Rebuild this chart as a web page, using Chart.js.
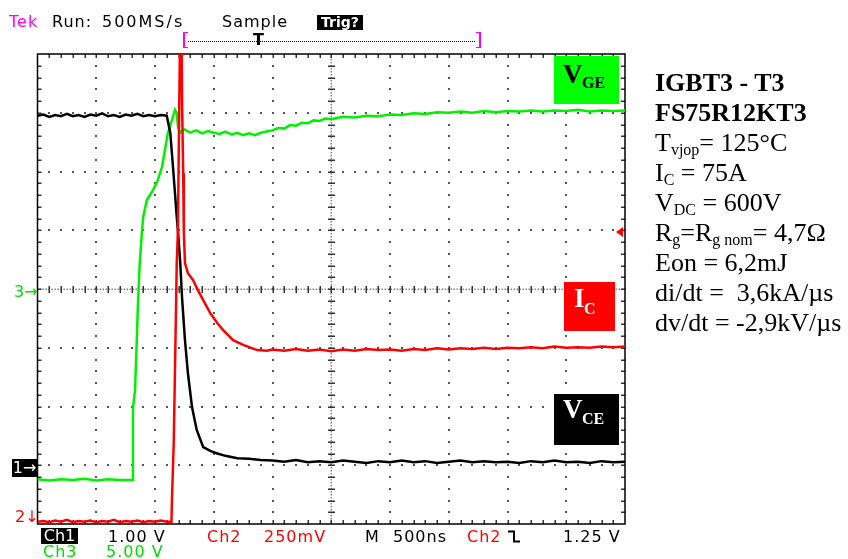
<!DOCTYPE html>
<html>
<head>
<meta charset="utf-8">
<script src="https://cdn.jsdelivr.net/npm/chart.js@4.4.0/dist/chart.umd.min.js"></script>
<style>
  body { margin: 0; background: #fff; }
  #wrap { position: relative; width: 848px; height: 559px; overflow: hidden; background: #fff; }
  #scope { position: absolute; left: 0; top: 0; }
  .t { position: absolute; font-family: "DejaVu Sans", sans-serif; font-size: 16px; line-height: 16px; letter-spacing: 1px; white-space: pre; color: #000; }
  .inv { position: absolute; background: #000; color: #fff; font-family: "DejaVu Sans", sans-serif; text-align: center; white-space: pre; }
  .box { position: absolute; }
  .lb { position: absolute; font-family: "Liberation Serif", serif; font-weight: bold; line-height: 1; white-space: pre; }
  #info { position: absolute; left: 655px; top: 68px; font-family: "Liberation Serif", serif; font-size: 26px; line-height: 30px; white-space: pre; color: #000; }
  #info sub { font-size: 16px; line-height: 0; vertical-align: -4px; }
</style>
</head>
<body>
<div id="wrap">
  <canvas id="scope" width="848" height="559"></canvas>

  <!-- header -->
  <div class="t" style="left:9px; top:13.5px; color:#ff00ff;">Tek</div>
  <div class="t" style="left:52px; top:13.5px;">Run:</div>
  <div class="t" style="left:102px; top:13.5px; letter-spacing:2px;">500MS/s</div>
  <div class="t" style="left:222px; top:13.5px;">Sample</div>
  <div class="inv" style="left:317px; top:15px; width:46px; height:15px; font-size:14px; line-height:15px; font-weight:bold;">Trig?</div>
  <div class="box" style="left:183px; top:32px; width:3px; height:14px; border-left:2px solid #ff00ff; border-top:1px solid #ff00ff; border-bottom:1px solid #ff00ff;"></div>
  <div class="box" style="left:476px; top:32px; width:3px; height:14px; border-right:2px solid #ff00ff; border-top:1px solid #ff00ff; border-bottom:1px solid #ff00ff;"></div>
  <div class="box" style="left:188px; top:41px; width:287px; border-top:1px dotted #000;"></div>
  <div class="t" style="left:253px; top:31.5px; letter-spacing:0; font-weight:bold;">T</div>

  <!-- channel ground markers -->
  <div class="t" style="left:14px; top:283.5px; color:#00dd00; letter-spacing:0;">3→</div>
  <div class="inv" style="left:12px; top:459px; width:25px; height:18px; font-size:16px; line-height:18px;">1→</div>
  <div class="t" style="left:15px; top:508.5px; color:#ff0000; letter-spacing:0;">2↓</div>

  <!-- trace labels -->
  <div class="box" style="left:554px; top:56px; width:65px; height:48px; background:#00ff00;"></div>
  <div class="lb" style="left:563px; top:61.4px; font-size:27px; color:#000;">V</div>
  <div class="lb" style="left:582px; top:74.6px; font-size:16px; color:#000;">GE</div>

  <div class="box" style="left:564px; top:282px; width:51px; height:49px; background:#ff0000;"></div>
  <div class="lb" style="left:574px; top:285.4px; font-size:27px; color:#fff;">I</div>
  <div class="lb" style="left:584px; top:300.6px; font-size:16px; color:#fff;">C</div>

  <div class="box" style="left:554px; top:394px; width:65px; height:51px; background:#000;"></div>
  <div class="lb" style="left:563px; top:396.4px; font-size:27px; color:#fff;">V</div>
  <div class="lb" style="left:582px; top:410.6px; font-size:16px; color:#fff;">CE</div>

  <!-- footer -->
  <div class="inv" style="left:41px; top:528px; width:37px; height:16px; font-size:16px; line-height:16px;">Ch1</div>
  <div class="t" style="left:108px; top:528.5px;">1.00 V</div>
  <div class="t" style="left:207px; top:528.5px; color:#ff0000;">Ch2</div>
  <div class="t" style="left:264px; top:528.5px; color:#ff0000;">250mV</div>
  <div class="t" style="left:365px; top:528.5px;">M</div>
  <div class="t" style="left:393px; top:528.5px;">500ns</div>
  <div class="t" style="left:467px; top:528.5px; color:#ff0000;">Ch2</div>
  <svg class="box" style="left:508px; top:530px;" width="14" height="13"><path d="M0 1.5 H6 V11.5 H12" fill="none" stroke="#000" stroke-width="2"/></svg>
  <div class="t" style="left:563px; top:528.5px;">1.25 V</div>
  <div class="t" style="left:43px; top:543.5px; color:#00dd00;">Ch3</div>
  <div class="t" style="left:106px; top:543.5px; color:#00dd00;">5.00 V</div>

  <!-- test conditions -->
  <div id="info"><b>IGBT3 - T3</b>
<b>FS75R12KT3</b>
T<sub>vjop</sub>= 125°C
I<sub>C</sub> = 75A
V<sub>DC</sub> = 600V
R<sub>g</sub>=R<sub>g nom</sub>= 4,7Ω
Eon = 6,2mJ
di/dt =  3,6kA/µs
dv/dt = -2,9kV/µs</div>
</div>

<script>
const divX = 10;
const divY = 8;
const trigLevel = 4.97; // Ch2 trigger level marker

// Ch1 - V_CE (black)
const vceTime = [0.0, 0.1, 0.2, 0.3, 0.4, 0.5, 0.6, 0.7, 0.8, 0.9, 1.0, 1.1, 1.2, 1.3, 1.4, 1.5, 1.6, 1.7, 1.8, 1.9, 2.0, 2.1, 2.2,
  2.26, 2.31, 2.37, 2.39, 2.43, 2.46, 2.51, 2.56, 2.63, 2.71, 2.82, 2.95, 3.06, 3.2, 3.4, 3.6, 3.8,
  4.0, 4.2, 4.4, 4.6, 4.8, 5.0, 5.2, 5.4, 5.6, 5.8, 6.0, 6.2, 6.4, 6.6, 6.8, 7.0, 7.2, 7.4, 7.6, 7.8, 8.0, 8.2, 8.4, 8.6, 8.8, 9.0, 9.2, 9.4, 9.6, 9.8, 10.0];
const vceDiv = [6.95, 6.97, 6.93, 6.96, 6.94, 6.98, 6.94, 6.96, 6.93, 6.97, 6.95, 6.99, 6.94, 6.96, 6.93, 6.97, 6.95, 6.98, 6.94, 6.96, 6.94, 6.96, 6.95,
  6.66, 6.03, 5.23, 5.00, 4.44, 3.86, 3.13, 2.57, 1.99, 1.60, 1.31, 1.24, 1.20, 1.16, 1.12, 1.11, 1.09,
  1.08, 1.06, 1.09, 1.05, 1.07, 1.05, 1.08, 1.06, 1.04, 1.07, 1.05, 1.08, 1.05, 1.07, 1.04, 1.06, 1.08, 1.05, 1.07, 1.05, 1.06, 1.04, 1.07, 1.05, 1.08, 1.05, 1.06, 1.04, 1.07, 1.05, 1.06];

// Ch2 - I_C (red)
const icTime = [0.0, 0.1, 0.2, 0.3, 0.4, 0.5, 0.6, 0.7, 0.8, 0.9, 1.0, 1.1, 1.2, 1.3, 1.4, 1.5, 1.6, 1.7, 1.8, 1.9, 2.0, 2.1, 2.2,
  2.28, 2.29, 2.32, 2.34, 2.37, 2.39, 2.41, 2.43, 2.45, 2.46, 2.48, 2.49, 2.51, 2.56, 2.65, 2.73, 2.82, 2.94, 3.06, 3.16, 3.33, 3.5, 3.74, 3.9,
  4.0, 4.2, 4.4, 4.6, 4.8, 5.0, 5.2, 5.4, 5.6, 5.8, 6.0, 6.2, 6.4, 6.6, 6.8, 7.0, 7.2, 7.4, 7.6, 7.8, 8.0, 8.2, 8.4, 8.6, 8.8, 9.0, 9.2, 9.4, 9.6, 9.8, 10.0];
const icDiv = [0.04, 0.05, 0.03, 0.06, 0.04, 0.07, 0.03, 0.05, 0.04, 0.06, 0.03, 0.05, 0.04, 0.07, 0.03, 0.05, 0.04, 0.06, 0.03, 0.05, 0.04, 0.06, 0.04,
  0.04, 0.46, 1.43, 2.62, 4.44, 5.00, 6.88, 8.6, 8.6, 7.22, 5.97, 5.00, 4.44, 4.27, 4.15, 3.98, 3.81, 3.59, 3.42, 3.30, 3.13, 3.05, 2.96, 2.95,
  2.97, 2.95, 2.98, 2.95, 2.97, 2.94, 2.97, 2.95, 2.98, 2.96, 2.97, 2.95, 2.98, 2.96, 2.99, 2.97, 2.99, 2.98, 3.00, 2.98, 3.00, 2.99, 3.01, 2.99, 3.02, 3.00, 3.01, 3.00, 3.02, 3.01, 3.02];

// Ch3 - V_GE (green)
const vgeTime = [0.0, 0.2, 0.4, 0.6, 0.8, 1.0, 1.2, 1.4, 1.615, 1.625,
  1.66, 1.69, 1.71, 1.74, 1.78, 1.80, 1.86, 1.97, 2.05, 2.12, 2.17, 2.22, 2.29, 2.34, 2.37, 2.39, 2.43,
  2.5, 2.6, 2.7, 2.8, 2.9, 3.0, 3.1, 3.2, 3.3, 3.4, 3.5, 3.6, 3.7, 3.8, 3.9, 4.0, 4.1, 4.2, 4.3, 4.4, 4.5, 4.6, 4.7, 4.8, 4.9,
  5.0, 5.2, 5.4, 5.6, 5.8, 6.0, 6.2, 6.4, 6.6, 6.8, 7.0, 7.2, 7.4, 7.6, 7.8, 8.0, 8.2, 8.4, 8.6, 8.8, 9.0, 9.2, 9.4, 9.6, 9.8, 10.0];
const vgeDiv = [0.76, 0.74, 0.76, 0.75, 0.77, 0.74, 0.76, 0.75, 0.75, 1.97,
  2.28, 3.13, 3.76, 4.44, 5.00, 5.23, 5.51, 5.69, 5.86, 6.08, 6.37, 6.66, 6.88, 7.05, 7.00, 6.76, 6.66,
  6.72, 6.66, 6.70, 6.65, 6.69, 6.66, 6.64, 6.68, 6.63, 6.66, 6.62, 6.65, 6.62, 6.66, 6.68, 6.70, 6.74, 6.73, 6.79, 6.78, 6.83, 6.82, 6.87, 6.86, 6.90,
  6.89, 6.93, 6.92, 6.95, 6.94, 6.97, 6.96, 6.99, 6.98, 7.01, 7.00, 7.02, 7.00, 7.03, 7.01, 7.03, 7.02, 7.04, 7.02, 7.04, 7.03, 7.05, 7.02, 7.04, 7.03, 7.04];

function toPoints(xs, ys) {
  return xs.map((t, i) => ({ x: t, y: ys[i] }));
}

// scope graticule: dotted divisions, centre cross with minor ticks, framed border
const graticule = {
  id: 'graticule',
  beforeDatasetsDraw(chart) {
    const { ctx, chartArea: a, scales: { x, y } } = chart;
    ctx.save();

    ctx.fillStyle = '#555';
    for (let i = 1; i < divX; i++) {
      if (i === divX / 2) continue;
      const px = Math.round(x.getPixelForValue(i));
      for (let k = 1; k < divY * 5; k++) {
        const py = Math.round(y.getPixelForValue(k / 5));
        ctx.fillRect(px - 1, py - 1, 2, 2);
      }
    }
    for (let j = 1; j < divY; j++) {
      if (j === divY / 2) continue;
      const py = Math.round(y.getPixelForValue(j));
      for (let k = 1; k < divX * 5; k++) {
        const px = Math.round(x.getPixelForValue(k / 5));
        ctx.fillRect(px - 1, py - 1, 2, 2);
      }
    }

    // centre cross
    const cx = Math.round(x.getPixelForValue(divX / 2));
    const cy = Math.round(y.getPixelForValue(divY / 2));
    ctx.fillStyle = '#888';
    for (let px = a.left + 2; px < a.right; px += 3) ctx.fillRect(px, cy - 0.5, 1.5, 1.5);
    for (let py = a.top + 2; py < a.bottom; py += 3) ctx.fillRect(cx - 0.5, py, 1.5, 1.5);
    ctx.fillStyle = '#333';
    for (let k = 1; k < divX * 5; k++) {
      const px = Math.round(x.getPixelForValue(k / 5));
      ctx.fillRect(px - 0.5, cy - 3, 1.5, 7);
      ctx.fillRect(px - 0.5, a.top, 1.5, 4);
      ctx.fillRect(px - 0.5, a.bottom - 4, 1.5, 4);
    }
    for (let k = 1; k < divY * 5; k++) {
      const py = Math.round(y.getPixelForValue(k / 5));
      ctx.fillRect(cx - 3, py - 0.5, 7, 1.5);
      ctx.fillRect(a.left, py - 0.5, 4, 1.5);
      ctx.fillRect(a.right - 4, py - 0.5, 4, 1.5);
    }

    ctx.strokeStyle = '#000';
    ctx.lineWidth = 1.5;
    ctx.strokeRect(a.left, a.top, a.right - a.left, a.bottom - a.top);
    ctx.restore();
  },
  afterDatasetsDraw(chart) {
    const { ctx, chartArea: a, scales: { y } } = chart;
    const py = y.getPixelForValue(trigLevel);
    ctx.save();
    ctx.fillStyle = '#ff0000';
    ctx.beginPath();
    ctx.moveTo(a.right - 9, py);
    ctx.lineTo(a.right - 2, py - 5);
    ctx.lineTo(a.right - 2, py + 5);
    ctx.closePath();
    ctx.fill();
    ctx.restore();
  }
};

const trace = (label, xs, ys, color, order) => ({
  label: label,
  data: toPoints(xs, ys),
  showLine: true,
  borderColor: color,
  backgroundColor: color,
  borderWidth: 2.5,
  pointRadius: 0,
  tension: 0,
  order: order
});

new Chart(document.getElementById('scope'), {
  type: 'scatter',
  data: {
    datasets: [
      trace('V_GE', vgeTime, vgeDiv, '#00f000', 3),
      trace('V_CE', vceTime, vceDiv, '#000000', 2),
      trace('I_C', icTime, icDiv, '#ff0000', 1)
    ]
  },
  options: {
    responsive: false,
    animation: false,
    events: [],
    layout: { padding: { left: 37.5, top: 54, right: 223, bottom: 35 } },
    scales: {
      x: { type: 'linear', min: 0, max: divX, display: false },
      y: { type: 'linear', min: 0, max: divY, display: false }
    },
    plugins: { legend: { display: false }, tooltip: { enabled: false } }
  },
  plugins: [graticule]
});
</script>
</body>
</html>
